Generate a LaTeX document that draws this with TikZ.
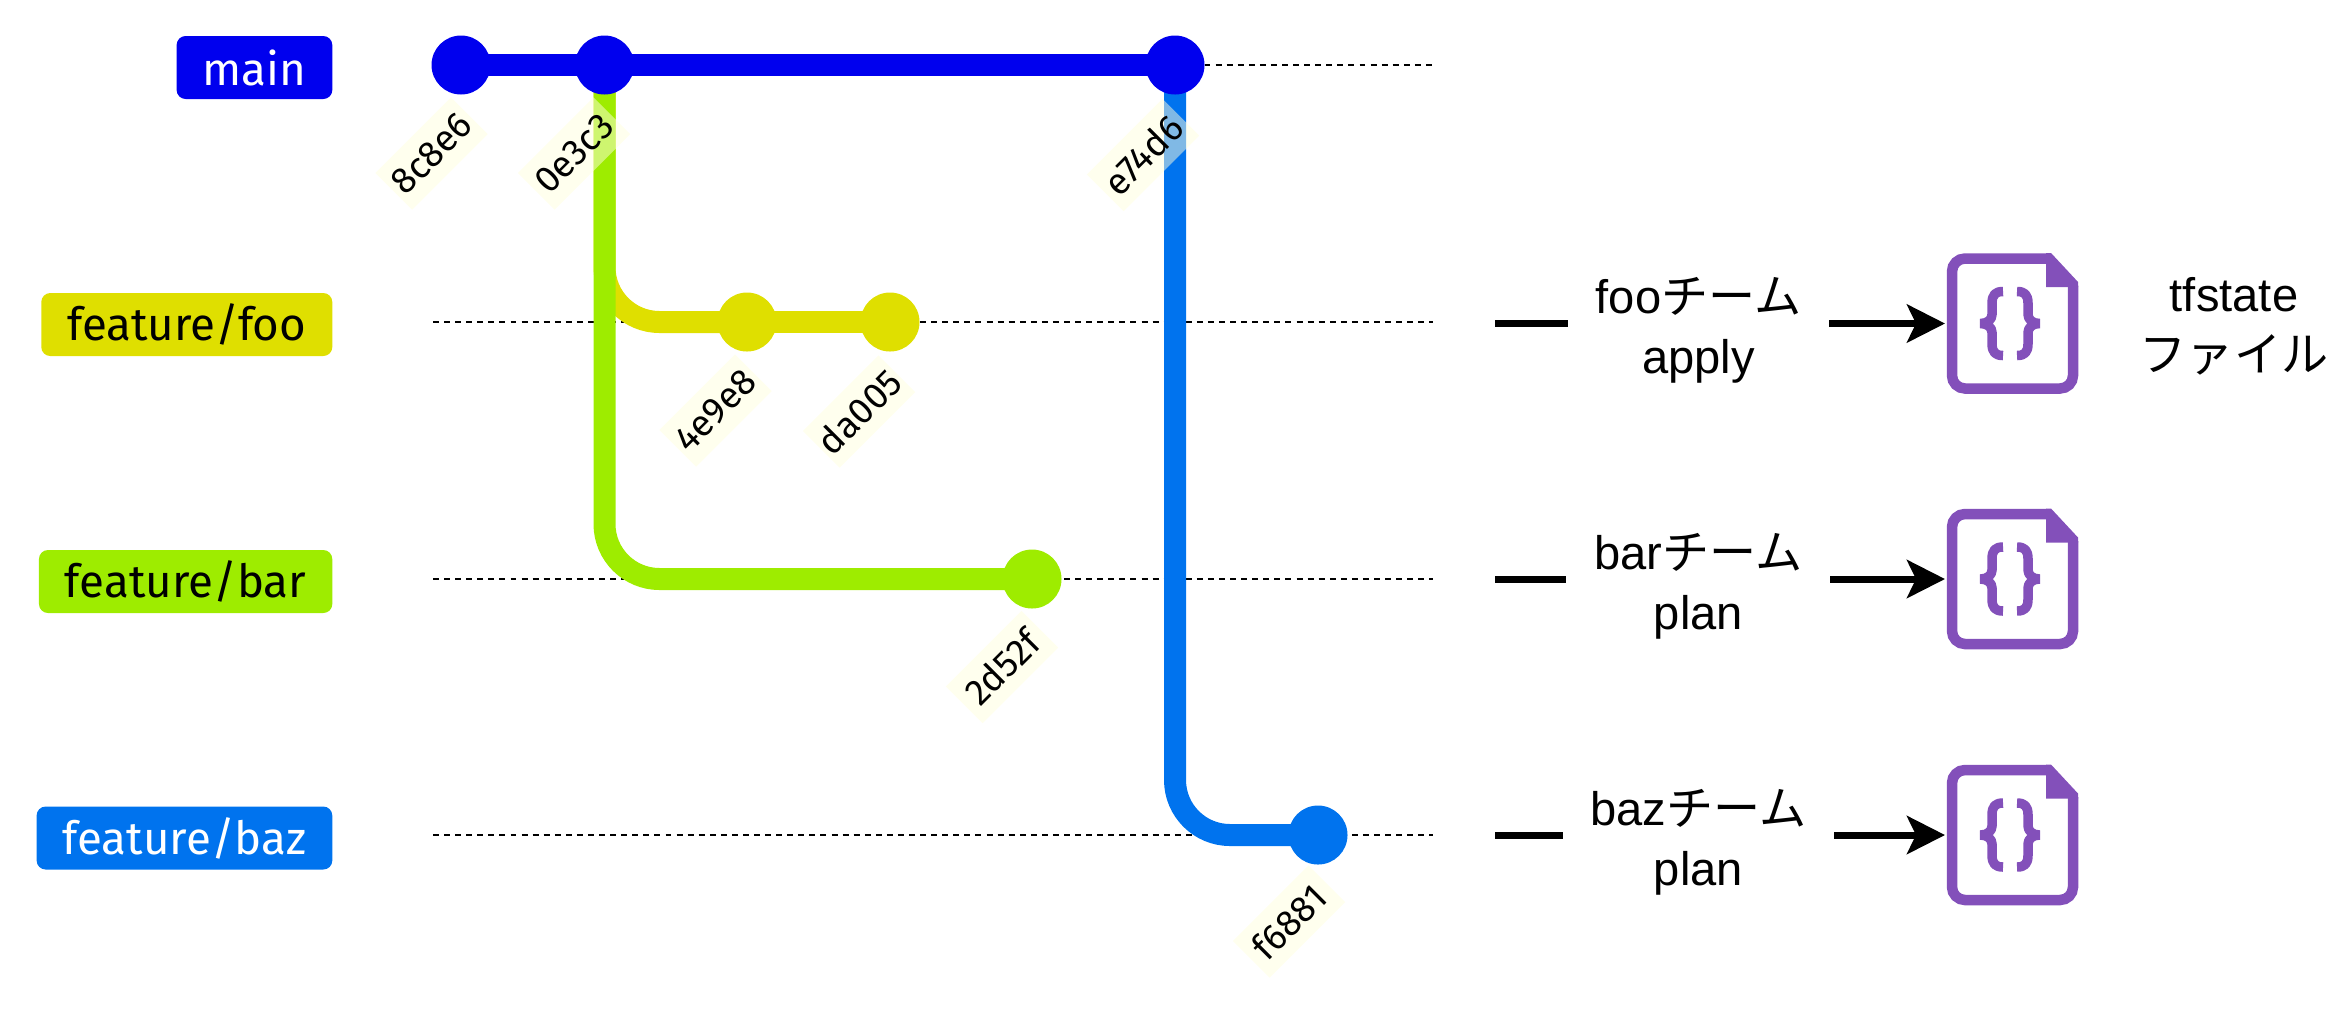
\documentclass[tikz,border=0pt]{standalone}
\usepackage{fontspec}
\setmainfont{Liberation Sans}
\newfontfamily\cjk{Noto Sans CJK JP}
\newfontfamily\gitfont{Fira Sans}
\usetikzlibrary{%
  arrows.meta,%
  positioning,%
  calc%
}
\definecolor{gitblue}{HTML}{0000EE}
\definecolor{gityellow}{HTML}{DFDF00}
\definecolor{gitgreen}{HTML}{9EEC00}
\definecolor{gitsky}{HTML}{0073EE}
\definecolor{hashbg}{HTML}{FFFFDE}
\definecolor{docpurple}{HTML}{8350BA}
\pgfdeclarelayer{background}
\pgfsetlayers{background,main}

\tikzset{
  commit/.style={circle, minimum size=5.9mm, inner sep=0pt, outer sep=0pt, fill=#1},
  branch/.style={line width=2.2mm, draw=#1, rounded corners=5.5mm},
  hash/.style={rectangle, minimum width=10.7mm, minimum height=5.2mm, inner sep=0pt, rotate=45,
    fill=hashbg, fill opacity=0.5, text opacity=1, font=\gitfont\fontsize{10.5}{12}\selectfont},
  tag/.style={rectangle, anchor=east, minimum height=6.3mm, inner xsep=2.6mm, inner ysep=0pt,
    rounded corners=0.9mm, fill=#1, font=\gitfont\fontsize{13}{15}\selectfont},
  rowline/.style={densely dashed, line width=0.6pt, dash pattern=on 1.7pt off 1.45pt},
  team/.style={fill=white, align=center, inner xsep=2.8mm, inner ysep=1pt, pos=0.45, yshift=-0.7mm,
    font=\fontsize{13.4}{17}\selectfont},
  push/.style={line width=0.7mm, -{Stealth[length=3.8mm,width=3.8mm,inset=0.9mm]}, shorten >=0.2mm},
  docline/.style={draw=docpurple, line width=1.05mm, line join=miter},
  docbrace/.style={draw=docpurple, line width=0.95mm, line join=bevel},
  tfdoc/.pic={
    \node[minimum width=13.1mm, minimum height=14.1mm, inner sep=0pt, outer sep=0pt] (-box) {};
    \draw[docline, rounded corners=1.3mm] (0.34,-0.65) -- (-0.605,-0.65) -- (-0.605,0.65) -- (0.605,0.65) -- (0.605,-0.38);
    \fill[docpurple] (0.335,-0.705) -- (0.385,-0.705) -- (0.655,-0.415) -- (0.655,-0.365) -- (0.335,-0.365) -- cycle;
    \draw[docbrace] (-0.095,-0.32) .. controls (-0.17,-0.32) and (-0.205,-0.29) .. (-0.205,-0.2) -- (-0.205,-0.09)
      .. controls (-0.205,-0.04) and (-0.25,0) .. (-0.32,0)
      .. controls (-0.25,0) and (-0.205,0.04) .. (-0.205,0.09) -- (-0.205,0.2)
      .. controls (-0.205,0.29) and (-0.17,0.32) .. (-0.095,0.32);
    \draw[docbrace] (0.045,-0.32) .. controls (0.12,-0.32) and (0.155,-0.29) .. (0.155,-0.2) -- (0.155,-0.09)
      .. controls (0.155,-0.04) and (0.2,0) .. (0.27,0)
      .. controls (0.2,0) and (0.155,0.04) .. (0.155,0.09) -- (0.155,0.2)
      .. controls (0.155,0.29) and (0.12,0.32) .. (0.045,0.32);
  }
}

\begin{document}
\begin{tikzpicture}[y=-1cm]
\useasboundingbox (0,0) rectangle (23.51,10.18);

\node[tag=gitblue, text=white] (lmain) at (3.33,0.675) {main};
\node[tag=gityellow] (lfoo) at (3.33,3.245) {feature/foo};
\node[tag=gitgreen] (lbar) at (3.33,5.815) {feature/bar};
\node[tag=gitsky, text=white] (lbaz) at (3.33,8.38) {feature/baz};

\node[commit=gitblue] (c8c8e6) at (4.61,0.65) {};
\node[commit=gitblue] (c0e3c3) at (6.045,0.65) {};
\node[commit=gitblue] (ce74d6) at (11.75,0.65) {};
\node[commit=gityellow] (c4e9e8) at (7.47,3.22) {};
\node[commit=gityellow] (cda005) at (8.90,3.22) {};
\node[commit=gitgreen] (c2d52f) at (10.32,5.79) {};
\node[commit=gitsky] (cf6881) at (13.18,8.35) {};

\begin{pgfonlayer}{background}
  \draw[rowline] (ce74d6) -- ($(lmain.east |- ce74d6)+(11,0)$);
  \foreach \l/\c in {lfoo/cda005,lbar/c2d52f,lbaz/cf6881} {
    \draw[rowline] ($(\l.east |- \c)+(1,0)$) -- ($(\l.east |- \c)+(11,0)$);
  }
  \draw[branch=gityellow] (c0e3c3.center) |- (c4e9e8.center);
  \draw[branch=gityellow] (c4e9e8.center) -- (cda005.center);
  \draw[branch=gitgreen] (c0e3c3.center) |- (c2d52f.center);
  \draw[branch=gitsky] (ce74d6.center) |- (cf6881.center);
  \draw[branch=gitblue] (c8c8e6.center) -- (c0e3c3.center);
  \draw[branch=gitblue] (c0e3c3.center) -- (ce74d6.center);
\end{pgfonlayer}

\node[hash] (h8c8e6) at (4.315,1.535) {8c8e6};
\node[hash] (h0e3c3) at (5.74,1.535) {0e3c3};
\node[hash] (he74d6) at (11.43,1.55) {e74d6};
\node[hash] (h4e9e8) at (7.155,4.105) {4e9e8};
\node[hash] (hda005) at (8.59,4.115) {da005};
\node[hash] (h2d52f) at (10.02,6.67) {2d52f};
\node[hash] (hf6881) at (12.89,9.215) {f6881};

\pic (doc1) at (20.125,3.235) {tfdoc};
\pic (doc2) at (20.125,5.79) {tfdoc};
\pic (doc3) at (20.125,8.35) {tfdoc};

\coordinate (foostart) at (14.95,3.235);
\coordinate (barstart) at (14.95,5.79);
\coordinate (bazstart) at (14.95,8.35);

\draw[push] (foostart) -- node[team] (tfoo) {foo{\cjk チーム}\\apply} (doc1-box.west);
\draw[push] (barstart) -- node[team] (tbar) {bar{\cjk チーム}\\plan} (doc2-box.west);
\draw[push] (bazstart) -- node[team] (tbaz) {baz{\cjk チーム}\\plan} (doc3-box.west);

\node[align=center, font=\fontsize{13.4}{17}\selectfont] (tfstate) at (22.34,3.26) {tfstate\\{\cjk ファイル}};
\end{tikzpicture}
\end{document}
